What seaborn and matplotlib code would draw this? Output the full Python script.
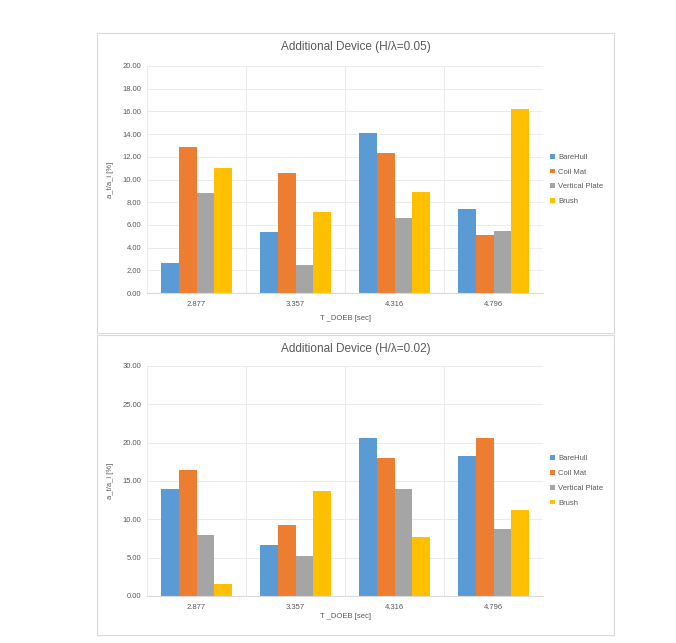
import matplotlib
matplotlib.use("Agg")
import matplotlib.pyplot as plt
import seaborn as sns
import pandas as pd
from matplotlib.patches import Rectangle

periods = ["2.877", "3.357", "4.316", "4.796"]
devices = ["BareHull", "Coil Mat", "Vertical Plate", "Brush"]

# H/lambda = 0.05
top_barehull = [2.6, 5.4, 14.1, 7.4]
top_coilmat = [12.9, 10.6, 12.3, 5.1]
top_vertplate = [8.8, 2.5, 6.6, 5.5]
top_brush = [11.0, 7.1, 8.9, 16.2]

# H/lambda = 0.02
bot_barehull = [14.0, 6.7, 20.6, 18.2]
bot_coilmat = [16.5, 9.2, 18.0, 20.6]
bot_vertplate = [7.9, 5.2, 14.0, 8.8]
bot_brush = [1.6, 13.7, 7.7, 11.2]

top_title = "Additional Device (H/λ=0.05)"
bot_title = "Additional Device (H/λ=0.02)"
xlabel = "T _DOEB [sec]"
ylabel = "a_t/a_i [%]"

colors = ["#5B9BD5", "#ED7D31", "#A5A5A5", "#FFC000"]

sns.set_theme(style="white")
plt.rcParams['font.family'] = ['Liberation Sans', 'DejaVu Sans']

def long_df(series):
    rows = []
    for dev, vals in zip(devices, series):
        for p, v in zip(periods, vals):
            rows.append({"period": p, "device": dev, "value": v})
    return pd.DataFrame(rows)

W, H = 676, 643
fig = plt.figure(figsize=(W / 100, H / 100), dpi=100)

# panel frames
for (y0, y1) in [(33, 333), (335, 635)]:
    fig.patches.append(Rectangle((97 / W, 1 - y1 / H), (614 - 97) / W, (y1 - y0) / H,
                                 transform=fig.transFigure, fill=False,
                                 edgecolor="#D9D9D9", linewidth=0.8))

def make_panel(series, rect, title, ymax, ystep, title_y, xlabel_y):
    ax = fig.add_axes(rect)
    df = long_df(series)
    sns.barplot(data=df, x="period", y="value", hue="device", hue_order=devices,
                order=periods, palette=colors, width=0.71, saturation=1,
                linewidth=0, edgecolor="none", ax=ax, legend=True)
    ax.set_ylim(0, ymax)
    ax.set_xlim(-0.5, 3.5)
    ticks = [i * ystep for i in range(int(round(ymax / ystep)) + 1)]
    ax.set_yticks(ticks)
    ax.set_yticklabels([f"{t:.2f}" for t in ticks], fontsize=5.5, color="#595959")
    ax.tick_params(axis="x", labelsize=5.5, colors="#595959", length=0, pad=6)
    ax.tick_params(axis="y", length=0, pad=4)
    for t in ticks[1:]:
        ax.axhline(t, color="#EBEBEB", linewidth=0.7, zorder=0)
    for xv in [-0.5, 0.5, 1.5, 2.5, 3.5]:
        ax.axvline(xv, color="#EBEBEB", linewidth=0.7, zorder=0)
    for s in ["top", "right", "left"]:
        ax.spines[s].set_visible(False)
    ax.spines["bottom"].set_color("#D9D9D9")
    ax.spines["bottom"].set_linewidth(0.8)
    ax.set_xlabel("")
    ax.set_ylabel(ylabel, fontsize=5.5, color="#595959", labelpad=6)
    fig.text(0.5 * (97 + 614) / W, 1 - title_y / H, title, ha="center", va="center",
             fontsize=8.5, color="#595959")
    fig.text(345 / W, 1 - xlabel_y / H, xlabel, ha="center", va="center",
             fontsize=5.5, color="#595959")
    leg = ax.legend(loc="center left", bbox_to_anchor=(1.01, 0.5), frameon=False,
                    fontsize=5.5, handlelength=0.6, handleheight=0.6,
                    handletextpad=0.5, labelspacing=1.0, borderaxespad=0)
    for t in leg.get_texts():
        t.set_color("#595959")
    return ax

make_panel([top_barehull, top_coilmat, top_vertplate, top_brush],
           [147 / W, 1 - 293 / H, 396 / W, 227 / H], top_title, 20, 2, 47, 318)
make_panel([bot_barehull, bot_coilmat, bot_vertplate, bot_brush],
           [147 / W, 1 - 596 / H, 396 / W, 230 / H], bot_title, 30, 5, 349, 617)

fig.savefig("out.png", dpi=100)
